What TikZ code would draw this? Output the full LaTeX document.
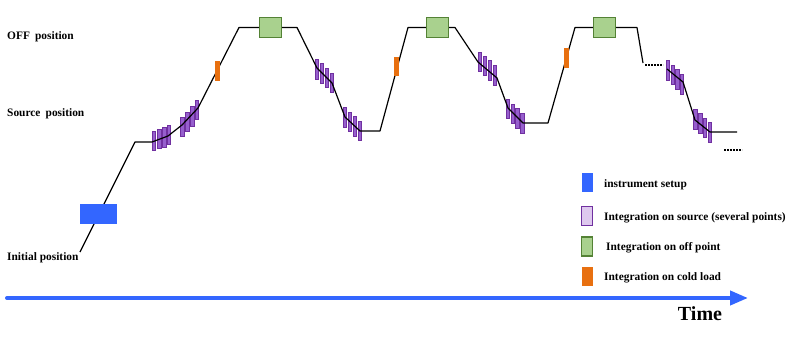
\documentclass[tikz,border=0pt]{standalone}
\usepackage{fontspec}
\setmainfont{Liberation Serif}
\usetikzlibrary{arrows.meta}
\definecolor{setupblue}{RGB}{51,102,255}
\definecolor{srcfill}{RGB}{150,95,205}
\definecolor{srcdraw}{RGB}{112,48,160}
\definecolor{srclight}{RGB}{222,200,238}
\definecolor{offfill}{RGB}{169,209,142}
\definecolor{offdraw}{RGB}{84,130,53}
\definecolor{coldfill}{RGB}{232,112,16}
\begin{document}
\begin{tikzpicture}[x=1pt,y=-1pt,
  lbl/.style={font=\fontsize{11.4}{13}\selectfont\bfseries, inner sep=0pt, anchor=west},
  pathline/.style={line width=1.2pt, black, line join=round},
  srcbox/.style={draw=srcdraw, fill=srcfill, line width=0.8pt, minimum width=3.5pt, minimum height=19.5pt, inner sep=0pt},
  offbox/.style={draw=offdraw, fill=offfill, line width=1.1pt, minimum width=22pt, minimum height=20pt, inner sep=0pt},
  coldbox/.style={fill=coldfill, minimum width=5pt, minimum height=20pt, inner sep=0pt},
  setupbox/.style={fill=setupblue, minimum width=37pt, minimum height=20pt, inner sep=0pt},
  dotline/.style={line width=1.3pt, dash pattern=on 2pt off 1pt},
  legbox/.style={minimum width=11pt, minimum height=19pt, inner sep=0pt},
]
\useasboundingbox (0,0) rectangle (793,351);

% position labels
\node[lbl] (offlbl) at (7,36.5) {OFF\hspace{0.45em}position};
\node[lbl] (srclbl) at (7,113.5) {Source\hspace{0.45em}position};
\node[lbl] (inilbl) at (7,257.5) {Initial position};

% green boxes (off point)
\node[offbox] (g1) at (270.5,27.5) {};
\node[offbox] (g2) at (437.5,27.5) {};
\node[offbox] (g3) at (604.5,27.5) {};

% purple boxes (source integrations)
\foreach \x/\y [count=\i] in {
  154/141, 159.5/139, 164.5/137.5, 169/135,
  182.5/127, 187.5/122, 192.5/116.5, 197/110,
  317/69.5, 322/73.5, 327/78, 332/83,
  345/117.5, 350/122, 355/126.5, 360/131,
  480/62, 485/66, 490/70.5, 495/75.5,
  508/109, 513/114, 517.5/118.5, 522.5/123.5,
  668/70.5, 673/75, 677.5/79.5, 682/84.5,
  695.5/119.5, 700.5/123.5, 705/128, 710/132.5}
  \node[srcbox] (s\i) at (\x,\y) {};

% path corners
\coordinate (p0) at (80,252);
\coordinate (p1) at (135,142);
\coordinate (p2) at (152,142);
\coordinate (p3) at (168,136);
\coordinate (p4) at (182,125);
\coordinate (p5) at (198,108);
\coordinate (p6) at (239,27.5);
\coordinate (p7) at (297,27.5);
\coordinate (p8) at (317,68);
\coordinate (p9) at (332,83);
\coordinate (p10) at (345,117);
\coordinate (p11) at (360,131);
\coordinate (p12) at (380,131);
\coordinate (p13) at (408,27.5);
\coordinate (p14) at (455,27.5);
\coordinate (p15) at (478,62);
\coordinate (p16) at (497,78);
\coordinate (p17) at (508,108);
\coordinate (p18) at (523,123);
\coordinate (p19) at (548,123);
\coordinate (p20) at (575,27.5);
\coordinate (p21) at (637,27.5);
\coordinate (p22) at (643,63);
\coordinate (p23) at (667,69);
\coordinate (p24) at (683,82);
\coordinate (p25) at (695,120);
\coordinate (p26) at (710,132);
\coordinate (p27) at (737,132);
\coordinate (d1) at (645,65);
\coordinate (d2) at (663,65);
\coordinate (d3) at (724,150);
\coordinate (d4) at (742,150);

\draw[pathline] (p0) -- (p1) -- (p2) -- (p3) -- (p4) -- (p5) -- (p6) -- (g1.west);
\draw[pathline] (g1.east) -- (p7) -- (p8) -- (p9) -- (p10) -- (p11) -- (p12) -- (p13) -- (g2.west);
\draw[pathline] (g2.east) -- (p14) -- (p15) -- (p16) -- (p17) -- (p18) -- (p19) -- (p20) -- (g3.west);
\draw[pathline] (g3.east) -- (p21) -- (p22);
\draw[pathline] (p23) -- (p24) -- (p25) -- (p26) -- (p27);
\draw[dotline] (d1) -- (d2);
\draw[dotline] (d3) -- (d4);

% setup and cold load boxes
\node[setupbox] (setup) at (98.5,214) {};
\node[coldbox] (o1) at (217,71) {};
\node[coldbox, minimum height=19pt] (o2) at (396.5,66.5) {};
\node[coldbox] (o3) at (566.5,58) {};

% legend
\node[legbox, fill=setupblue] (lg1) at (587,182) {};
\node[legbox, fill=srclight, draw=srcdraw, line width=1.2pt] (lg2) at (587,216) {};
\node[legbox, fill=offfill, draw=offdraw, line width=1.2pt] (lg3) at (587,246.5) {};
\node[legbox, fill=coldfill] (lg4) at (587,276) {};
\node[lbl] (lt1) at (604,184.5) {instrument setup};
\node[lbl] (lt2) at (604,217.5) {Integration on source (several points)};
\node[lbl] (lt3) at (606,247.5) {Integration on off point};
\node[lbl] (lt4) at (604,277.5) {Integration on cold load};

% time axis
\coordinate (ta) at (7,298);
\coordinate (tb) at (748,298);
\draw[setupblue, line width=4pt, line cap=round, -{Triangle[length=18pt,width=14pt]}] (ta) -- (tb);
\node[font=\fontsize{20}{24}\selectfont\bfseries, inner sep=0pt] (time) at (700,314) {Time};
\end{tikzpicture}
\end{document}
